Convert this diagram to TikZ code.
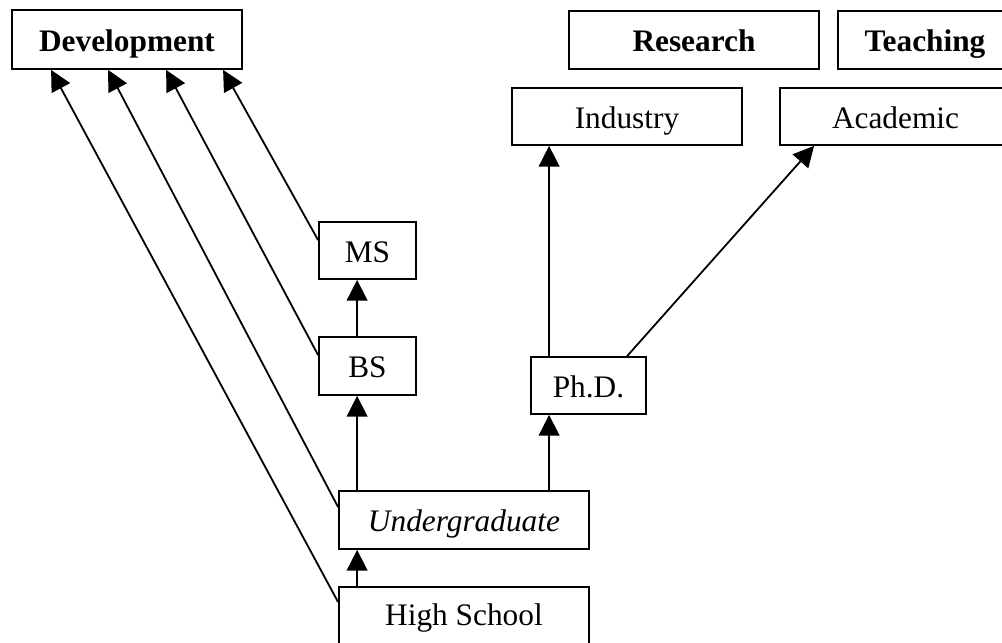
\documentclass[tikz,border=0pt]{standalone}
\usepackage{fontspec}
\setmainfont{Liberation Serif}
\usetikzlibrary{arrows.meta,calc}
\tikzset{
  box/.style={draw, line width=1.35pt, inner sep=0pt, fill=white,
    text height=17.4pt, text depth=0pt,
    font=\fontsize{23.5pt}{28pt}\selectfont},
  arr/.style={line width=1.35pt, -{Triangle[length=15.5pt,width=15.5pt]}}
}
\begin{document}
\begin{tikzpicture}[x=0.75pt,y=-0.75pt]
\useasboundingbox (0,0) rectangle (1002,642);
\clip (0,0) rectangle (1002,642);
\fill[white] (0,0) rectangle (1002,642);
\node[box, minimum width=172.5pt, minimum height=44.25pt] (dev) at (127,39.5) {\textbf{Development}};
\node[box, minimum width=187.5pt, minimum height=43.5pt] (res) at (694,40) {\textbf{Research}};
\node[box, minimum width=130.5pt, minimum height=43.5pt] (teach) at (925,40) {\textbf{Teaching}};
\node[box, minimum width=172.5pt, minimum height=42.75pt] (ind) at (627,116.5) {Industry};
\node[box, minimum width=173.25pt, minimum height=42.75pt] (acad) at (895.5,116.5) {Academic};
\node[box, minimum width=72.75pt, minimum height=42.75pt] (ms) at (367.5,250.5) {MS};
\node[box, minimum width=72.75pt, minimum height=43.5pt] (bs) at (367.5,366) {BS};
\node[box, minimum width=86.25pt, minimum height=42.75pt] (phd) at (588.5,385.5) {Ph.D.};
\node[box, minimum width=187.5pt, minimum height=43.5pt] (ug) at (464,520) {\textit{Undergraduate}};
\node[box, minimum width=187.5pt, minimum height=43.5pt, text depth=3.9pt] (hs) at (464,616) {High School};
% connectors to Development
\draw[arr] ($(ms.north west)+(0,19)$) -- ($(dev.south west)+(212,0)$);
\draw[arr] ($(bs.north west)+(0,19)$) -- ($(dev.south west)+(155,0)$);
\draw[arr] ($(ug.north west)+(0,17)$) -- ($(dev.south west)+(97,0)$);
\draw[arr] ($(hs.north west)+(0,16)$) -- ($(dev.south west)+(40,0)$);
% vertical chain
\draw[arr] ($(bs.north west)+(39,0)$) -- ($(ms.south west)+(39,0)$);
\draw[arr] ($(ug.north west)+(19,0)$) -- ($(bs.south west)+(39,0)$);
\draw[arr] ($(hs.north west)+(19,0)$) -- ($(ug.south west)+(19,0)$);
\draw[arr] ($(ug.north west)+(211,0)$) -- ($(phd.south west)+(19,0)$);
\draw[arr] ($(phd.north west)+(19,0)$) -- ($(ind.south west)+(38,0)$);
\draw[arr] ($(phd.north west)+(97,0)$) -- ($(acad.south west)+(35,0)$);
\end{tikzpicture}
\end{document}
